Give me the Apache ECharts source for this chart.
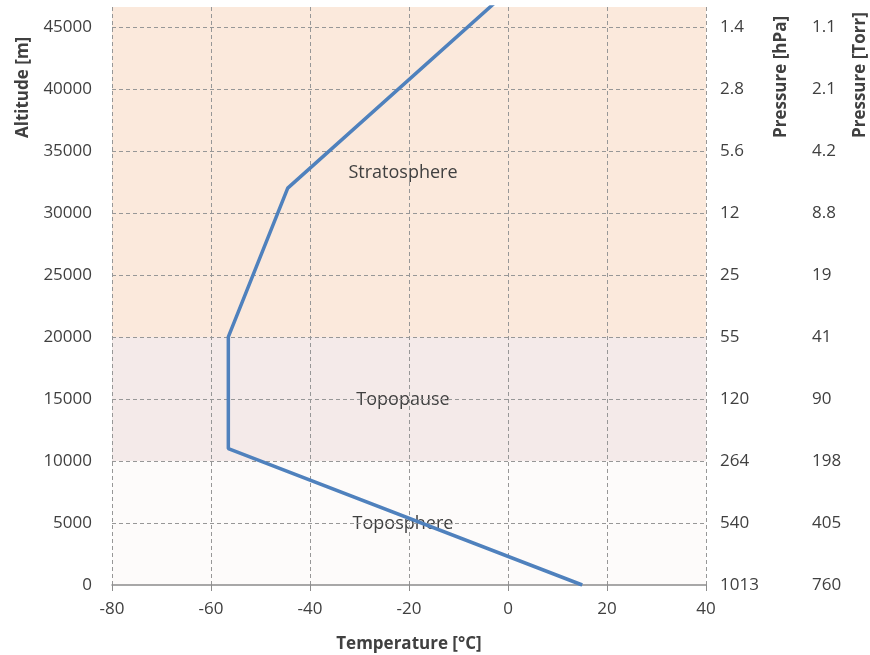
<!DOCTYPE html>
<html>
<head>
<meta charset="utf-8">
<script src="https://cdn.jsdelivr.net/npm/echarts@6/dist/echarts.min.js"></script>
<style>html,body{margin:0;padding:0;background:#fff}#c{width:870px;height:655px}</style>
</head>
<body>
<div id="c"></div>
<script>
// Data
var temperatureC = [15, -56.5, -56.5, -44.5, -2.5];
var altitudeM = [0, 11000, 20000, 32000, 47000];
var altitudeTicks = [0, 5000, 10000, 15000, 20000, 25000, 30000, 35000, 40000, 45000];
var pressureHpa = ['1013', '540', '264', '120', '55', '25', '12', '5.6', '2.8', '1.4'];
var pressureTorr = ['760', '405', '198', '90', '41', '19', '8.8', '4.2', '2.1', '1.1'];
var layerNames = ['Toposphere', 'Topopause', 'Stratosphere'];
var layerBottoms = [0, 10000, 20000];
var layerTops = [10000, 20000, 46600];
var layerColors = ['#FDFBFA', '#F4EAE9', '#FBE9DC'];

var FONT = 'Open Sans';
var TXT = '#404040';
var yMax = 46600;

function tickIndex(v) { return altitudeTicks.indexOf(v); }

var chart = echarts.init(document.getElementById('c'), null, {renderer: 'canvas'});
var lineData = temperatureC.map(function (t, i) { return [t, altitudeM[i]]; });
var areas = layerNames.map(function (n, i) {
  return [{name: n, yAxis: layerBottoms[i], xAxis: -80, itemStyle: {color: layerColors[i]}},
          {yAxis: layerTops[i], xAxis: 40}];
});

var gridDash = {color: '#979797', width: 1, type: [4, 3]};
var baseY = {
  type: 'value', min: 0, max: yMax, interval: 5000, z: 3,
  axisLine: {show: false}, axisTick: {show: false},
  splitLine: {show: false}
};
var tickFont = {fontFamily: FONT, fontSize: 17, color: TXT};

chart.setOption({
  animation: false,
  textStyle: {fontFamily: FONT},
  grid: {left: 112, right: 164, top: 7, bottom: 70, containLabel: false, outerBoundsMode: 'none'},
  xAxis: {
    type: 'value', min: -80, max: 40, interval: 20, z: 3,
    name: 'Temperature [°C]', nameLocation: 'middle', nameGap: 51,
    nameTextStyle: {fontFamily: FONT, fontSize: 17, fontWeight: 'bold', color: TXT},
    axisLine: {show: true, lineStyle: {color: '#8c8c8c', width: 1.5}},
    axisTick: {show: true, length: 6, inside: false, lineStyle: {color: '#8c8c8c'}},
    axisLabel: Object.assign({margin: 16}, tickFont),
    splitLine: {show: true, lineStyle: gridDash}
  },
  yAxis: [
    Object.assign({}, baseY, {
      position: 'left',
      axisLabel: Object.assign({margin: 20, showMaxLabel: false,
        formatter: function (v) { return tickIndex(v) >= 0 ? String(v) : ''; }}, tickFont),
      splitLine: {show: true, showMinLine: false, showMaxLine: false, lineStyle: gridDash}
    }),
    Object.assign({}, baseY, {
      position: 'right', offset: 0,
      axisLabel: Object.assign({margin: 14, showMaxLabel: false,
        formatter: function (v) { var i = tickIndex(v); return i >= 0 ? pressureHpa[i] : ''; }}, tickFont)
    }),
    Object.assign({}, baseY, {
      position: 'right', offset: 92,
      axisLabel: Object.assign({margin: 14, showMaxLabel: false,
        formatter: function (v) { var i = tickIndex(v); return i >= 0 ? pressureTorr[i] : ''; }}, tickFont)
    })
  ],
  graphic: [
    {type: 'text', x: 23, y: 138, rotation: Math.PI / 2, z: 10,
      style: {text: 'Altitude [m]', font: 'bold 17px "' + FONT + '"', fill: TXT, align: 'left', verticalAlign: 'middle'}},
    {type: 'text', x: 781, y: 138, rotation: Math.PI / 2, z: 10,
      style: {text: 'Pressure [hPa]', font: 'bold 17px "' + FONT + '"', fill: TXT, align: 'left', verticalAlign: 'middle'}},
    {type: 'text', x: 860, y: 138, rotation: Math.PI / 2, z: 10,
      style: {text: 'Pressure [Torr]', font: 'bold 17px "' + FONT + '"', fill: TXT, align: 'left', verticalAlign: 'middle'}}
  ],
  series: [{
    type: 'line', data: [], z: 1, silent: true,
    markArea: {
      silent: true,
      label: {show: true, position: 'inside', fontFamily: FONT, fontSize: 18, color: TXT, offset: [-6, 1]},
      data: areas
    }
  }, {
    type: 'line', data: lineData, symbol: 'none', clip: true, z: 5,
    lineStyle: {color: '#4F81BD', width: 3.5}
  }]
});
</script>
</body>
</html>
